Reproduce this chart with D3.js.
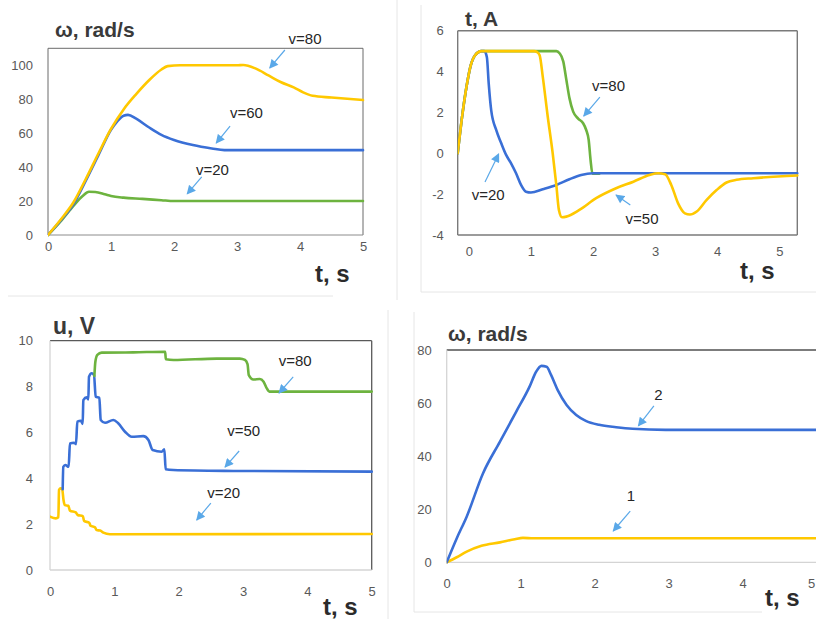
<!DOCTYPE html>
<html>
<head>
<meta charset="utf-8">
<script src="https://cdn.jsdelivr.net/npm/d3@7"></script>
<style>
  body { margin: 0; background: #fff; }
  svg { display: block; }
</style>
</head>
<body>
<svg id="fig" width="816" height="619"></svg>
<script>
// ---- data: [t, value] ----
// top-left, omega (rad/s)
var p1V20 = [[0,0],[0.2,8],[0.4,17],[0.55,23],[0.65,25.5],[0.75,25.3],[0.9,24],[1.0,23],[1.2,22],[1.5,21.3],[1.8,20.5],[2.0,20],[2.5,20],[5,20]];
var p1V60 = [[0,0],[0.2,8.5],[0.4,18],[0.6,32],[0.8,47],[1.0,62],[1.1,67],[1.2,70.3],[1.27,70.8],[1.4,68.5],[1.6,63.5],[1.8,59],[2.0,56],[2.3,53],[2.6,51],[2.8,50],[3.2,50],[5,50]];
var p1V80 = [[0,0],[0.2,9],[0.4,19],[0.6,33],[0.8,48],[1.0,62.5],[1.2,74],[1.4,83],[1.6,91],[1.8,97.5],[1.9,99.5],[2.1,100],[2.5,100],[3.0,100],[3.1,100.2],[3.3,98],[3.5,94],[3.7,90],[3.9,87],[4.05,84],[4.2,82],[4.5,81],[5,79.5]];

// top-right, current (A)
var p2V20 = [[-0.18,0],[-0.1,2.0],[-0.03,3.4],[0.03,4.3],[0.1,4.8],[0.2,5.0],[0.25,5.0],[0.29,4.7],[0.32,3.4],[0.36,2.1],[0.44,1.14],[0.52,0.5],[0.6,-0.08],[0.68,-0.49],[0.76,-0.98],[0.84,-1.55],[0.92,-1.88],[1.0,-1.92],[1.19,-1.76],[1.41,-1.55],[1.62,-1.27],[1.81,-1.06],[2.0,-0.98],[3.0,-0.98],[5.29,-0.98]];
var p2V80 = [[-0.18,0],[-0.1,2.0],[-0.03,3.4],[0.03,4.3],[0.1,4.8],[0.2,5.0],[1.0,5.0],[1.41,5.0],[1.46,4.9],[1.52,4.5],[1.57,3.6],[1.62,2.7],[1.68,2.04],[1.76,1.7],[1.84,1.47],[1.89,1.14],[1.93,0.65],[1.96,-0.33],[1.99,-1.0],[2.1,-1.0]];
var p2V50 = [[-0.18,0],[-0.1,2.0],[-0.03,3.4],[0.03,4.3],[0.1,4.8],[0.2,5.0],[0.6,5.0],[1.05,5.0],[1.1,4.95],[1.14,4.8],[1.19,3.75],[1.27,1.8],[1.35,0],[1.41,-1.6],[1.45,-2.77],[1.5,-3.13],[1.57,-3.1],[1.78,-2.77],[2.05,-2.2],[2.38,-1.7],[2.65,-1.39],[2.91,-1.06],[3.05,-0.98],[3.16,-1.03],[3.26,-1.55],[3.37,-2.45],[3.48,-2.94],[3.56,-3.0],[3.67,-2.85],[3.83,-2.28],[3.99,-1.8],[4.15,-1.43],[4.31,-1.3],[4.58,-1.22],[5.29,-1.09]];

// bottom-left, voltage (V)
var p3V20 = [[0,2.33],[0.09,2.25],[0.13,2.3],[0.14,3.49],[0.166,3.56],[0.19,3.52],[0.21,3.05],[0.23,2.83],[0.285,2.8],[0.31,2.59],[0.40,2.51],[0.43,2.4],[0.51,2.35],[0.53,2.14],[0.61,2.06],[0.63,1.93],[0.70,1.86],[0.725,1.74],[0.78,1.72],[0.83,1.63],[0.93,1.56],[5,1.57]];
var p3V50 = [[0.197,3.52],[0.207,4.5],[0.238,4.58],[0.29,4.5],[0.31,5.52],[0.373,5.55],[0.404,5.49],[0.425,6.47],[0.48,6.51],[0.508,6.37],[0.518,7.41],[0.57,7.53],[0.596,7.44],[0.606,8.43],[0.648,8.58],[0.684,8.5],[0.71,7.56],[0.767,7.51],[0.788,6.54],[0.855,6.42],[0.984,6.54],[1.06,6.4],[1.166,6.03],[1.27,5.81],[1.45,5.84],[1.53,5.67],[1.596,5.23],[1.736,5.16],[1.777,5.26],[1.798,4.39],[1.917,4.36],[2.85,4.32],[5,4.29]];
var p3V80 = [[0.69,8.46],[0.705,9.08],[0.736,9.38],[0.803,9.48],[1.295,9.49],[1.79,9.52],[1.80,9.19],[1.92,9.16],[2.59,9.22],[2.95,9.22],[3.03,9.16],[3.07,8.98],[3.09,8.5],[3.16,8.31],[3.26,8.33],[3.32,8.21],[3.37,7.92],[3.41,7.78],[5,7.78]];

// bottom-right, omega (rad/s)
var p4C1 = [[0,0],[0.135,1.9],[0.27,4.0],[0.47,6.2],[0.72,7.5],[0.92,8.7],[1.03,9.2],[1.17,9.05],[5,9.05]];
var p4C2 = [[0,0],[0.135,9],[0.27,17.2],[0.49,33.5],[0.72,45.5],[0.94,56.8],[1.12,66.2],[1.21,71.9],[1.28,74],[1.35,73.7],[1.41,70.6],[1.5,64.9],[1.62,59.3],[1.75,55.5],[1.88,53.3],[2.06,51.8],[2.29,50.9],[2.51,50.3],[2.96,49.9],[5,49.9]];

var xTicks = [0, 1, 2, 3, 4, 5];
var p1YTicks = [0, 20, 40, 60, 80, 100];
var p2YTicks = [-4, -2, 0, 2, 4, 6];
var p3YTicks = [0, 2, 4, 6, 8, 10];
var p4YTicks = [0, 20, 40, 60, 80];

// labels with arrows: [text, labelT, labelV, fromT, fromV, toT, toV]
var p1Notes = [["v=80",4.08,115.5,3.76,109,3.52,98.4],["v=60",3.15,71.9,2.89,64.2,2.67,54.2],["v=20",2.61,38.3,2.44,34.2,2.21,24.2]];
var p2Notes = [["v=80",2.25,3.29,2.11,2.75,1.85,1.82],["v=20",0.31,-2.04,0.26,-1.41,0.48,-0.03],["v=50",2.79,-3.22,2.6,-2.53,2.37,-2.04]];
var p3Notes = [["v=80",3.81,9.11,3.78,8.42,3.56,7.72],["v=50",3.01,6.06,2.94,5.19,2.72,4.49],["v=20",2.70,3.36,2.5,2.92,2.28,2.18]];
var p4Notes = [["2",2.86,63.0,2.8,58.9,2.59,51.4],["1",2.49,25.0,2.48,19.3,2.25,11.8]];

var YELLOW = "#ffc800", BLUE = "#3a6fd6", GREEN = "#6db33f", ARROW = "#5aa8e8";

var svg = d3.select("#fig");

svg.append("defs").append("marker")
    .attr("id", "arr")
    .attr("viewBox", "0 0 10 10")
    .attr("refX", 9).attr("refY", 5)
    .attr("markerWidth", 10).attr("markerHeight", 9)
    .attr("markerUnits", "userSpaceOnUse")
    .attr("orient", "auto")
  .append("path")
    .attr("d", "M0,0 L10,5 L0,10 z")
    .attr("fill", ARROW);

// faint panel edges from the scanned figure
var edges = [[397,0,397,300],[8,296,333,296],[421,5,421,292],[421,292,816,292],[388,310,388,619],[414,312,414,612],[414,612,762,612]];
svg.selectAll("line.edge").data(edges).enter().append("line")
    .attr("class", "edge")
    .attr("x1", d => d[0]).attr("y1", d => d[1])
    .attr("x2", d => d[2]).attr("y2", d => d[3])
    .attr("stroke", "#e6e6e6").attr("stroke-width", 1);

function drawPanel(cfg) {
  var x = d3.scaleLinear().domain(cfg.xDomain).range([cfg.left, cfg.right]);
  var y = d3.scaleLinear().domain(cfg.yDomain).range([cfg.bottom, cfg.top]);
  var g = svg.append("g");

  // frame
  var sides = {
    top: [cfg.left, cfg.top, cfg.right, cfg.top],
    right: [cfg.right, cfg.top, cfg.right, cfg.bottom],
    bottom: [cfg.left, cfg.bottom, cfg.right, cfg.bottom],
    left: [cfg.left, cfg.top, cfg.left, cfg.bottom]
  };
  Object.keys(sides).forEach(function(k) {
    var s = sides[k];
    g.append("line")
      .attr("x1", s[0]).attr("y1", s[1]).attr("x2", s[2]).attr("y2", s[3])
      .attr("stroke", cfg.frame[k])
      .attr("stroke-width", cfg.frameWidth || 1);
  });

  var yAxis = d3.axisLeft(y).tickValues(cfg.yTicks).tickSize(0)
      .tickPadding(cfg.yPad).tickFormat(d => String(d));
  var xAxis = d3.axisBottom(x).tickValues(xTicks).tickSize(0)
      .tickPadding(cfg.xPad).tickFormat(d => String(d));

  var ya = g.append("g").attr("transform", "translate(" + cfg.left + ",0)").call(yAxis);
  var xa = g.append("g").attr("transform", "translate(0," + cfg.bottom + ")").call(xAxis);
  [ya, xa].forEach(function(a) {
    a.select(".domain").remove();
    a.selectAll("text")
      .attr("fill", "#595959")
      .style("font-family", "'Liberation Sans', Arial, sans-serif")
      .style("font-size", "13px");
  });
  // last tick sits on the figure's right edge: keep it inside
  if (cfg.lastTickEnd) {
    xa.selectAll(".tick text").filter(d => d === 5)
      .attr("text-anchor", "end").attr("x", -2);
  }

  var line = d3.line()
      .x(d => x(d[0]))
      .y(d => y(d[1]))
      .curve(d3.curveMonotoneX);

  var clipId = "clip" + cfg.id;
  svg.select("defs").append("clipPath").attr("id", clipId)
    .append("rect")
      .attr("x", cfg.left).attr("y", cfg.top - 3)
      .attr("width", cfg.right - cfg.left + 2).attr("height", cfg.bottom - cfg.top + 6);

  g.append("g").attr("clip-path", "url(#" + clipId + ")")
    .selectAll("path.series").data(cfg.series).enter().append("path")
      .attr("class", "series")
      .attr("d", d => line(d.values))
      .attr("fill", "none")
      .attr("stroke", d => d.color)
      .attr("stroke-width", 2.6)
      .attr("stroke-linejoin", "round")
      .attr("stroke-linecap", "round");

  // notes
  var notes = g.selectAll("g.note").data(cfg.notes).enter().append("g").attr("class", "note");
  notes.append("line")
      .attr("x1", d => x(d[3])).attr("y1", d => y(d[4]))
      .attr("x2", d => x(d[5])).attr("y2", d => y(d[6]))
      .attr("stroke", ARROW).attr("stroke-width", 1.2)
      .attr("marker-end", "url(#arr)");
  notes.append("text")
      .attr("x", d => x(d[1])).attr("y", d => y(d[2]))
      .attr("dy", "0.35em")
      .attr("text-anchor", "middle")
      .attr("fill", "#262626")
      .style("font-family", "'Liberation Sans', Arial, sans-serif")
      .style("font-size", "15px")
      .text(d => d[0]);

  // titles
  g.append("text")
      .attr("x", cfg.title.x).attr("y", cfg.title.y)
      .attr("fill", "#3a3a3a")
      .style("font-family", "'Liberation Sans', Arial, sans-serif")
      .style("font-weight", "bold")
      .style("font-size", cfg.title.size + "px")
      .text(cfg.title.text);
  g.append("text")
      .attr("x", cfg.tlabel.x).attr("y", cfg.tlabel.y)
      .attr("fill", "#2b2b2b")
      .style("font-family", "'Liberation Sans', Arial, sans-serif")
      .style("font-weight", "bold")
      .style("font-size", "24px")
      .text("t, s");
}

var dark = "#6b6b6b", light = "#d4d4d4";

drawPanel({
  id: 1, left: 48, right: 363, top: 48.3, bottom: 235,
  xDomain: [0, 5], yDomain: [0, 110], yTicks: p1YTicks, yPad: 15, xPad: 7,
  frame: {top: dark, right: dark, bottom: "#8c8c8c", left: dark},
  series: [{values: p1V20, color: GREEN}, {values: p1V60, color: BLUE}, {values: p1V80, color: YELLOW}],
  notes: p1Notes,
  title: {text: "ω, rad/s", x: 55, y: 36.5, size: 21},
  tlabel: {x: 315, y: 282}
});

drawPanel({
  id: 2, left: 457.7, right: 797.3, top: 30.7, bottom: 235,
  xDomain: [-0.18, 5.29], yDomain: [-4, 6], yTicks: p2YTicks, yPad: 14, xPad: 12,
  frame: {top: "#7a7a7a", right: "#7a7a7a", bottom: "#7a7a7a", left: "#7a7a7a"}, frameWidth: 1.4,
  series: [{values: p2V80, color: GREEN}, {values: p2V20, color: BLUE}, {values: p2V50, color: YELLOW}],
  notes: p2Notes,
  title: {text: "t, A", x: 465, y: 26, size: 21},
  tlabel: {x: 740, y: 279}
});

drawPanel({
  id: 3, left: 50, right: 371.7, top: 340.7, bottom: 570,
  xDomain: [0, 5], yDomain: [0, 10], yTicks: p3YTicks, yPad: 17, xPad: 17,
  frame: {top: "#595959", right: "#595959", bottom: light, left: light}, frameWidth: 1.3,
  series: [{values: p3V20, color: YELLOW}, {values: p3V50, color: BLUE}, {values: p3V80, color: GREEN}],
  notes: p3Notes,
  title: {text: "u, V", x: 53, y: 334, size: 23},
  tlabel: {x: 323, y: 615}
});

drawPanel({
  id: 4, left: 446.7, right: 816.7, top: 350, bottom: 562.3,
  xDomain: [0, 5], yDomain: [0, 80], yTicks: p4YTicks, yPad: 15, xPad: 16,
  frame: {top: "#505050", right: "none", bottom: light, left: light}, frameWidth: 1.3,
  series: [{values: p4C1, color: YELLOW}, {values: p4C2, color: BLUE}],
  notes: p4Notes, lastTickEnd: true,
  title: {text: "ω, rad/s", x: 448, y: 341, size: 21},
  tlabel: {x: 765, y: 606}
});
</script>
</body>
</html>
